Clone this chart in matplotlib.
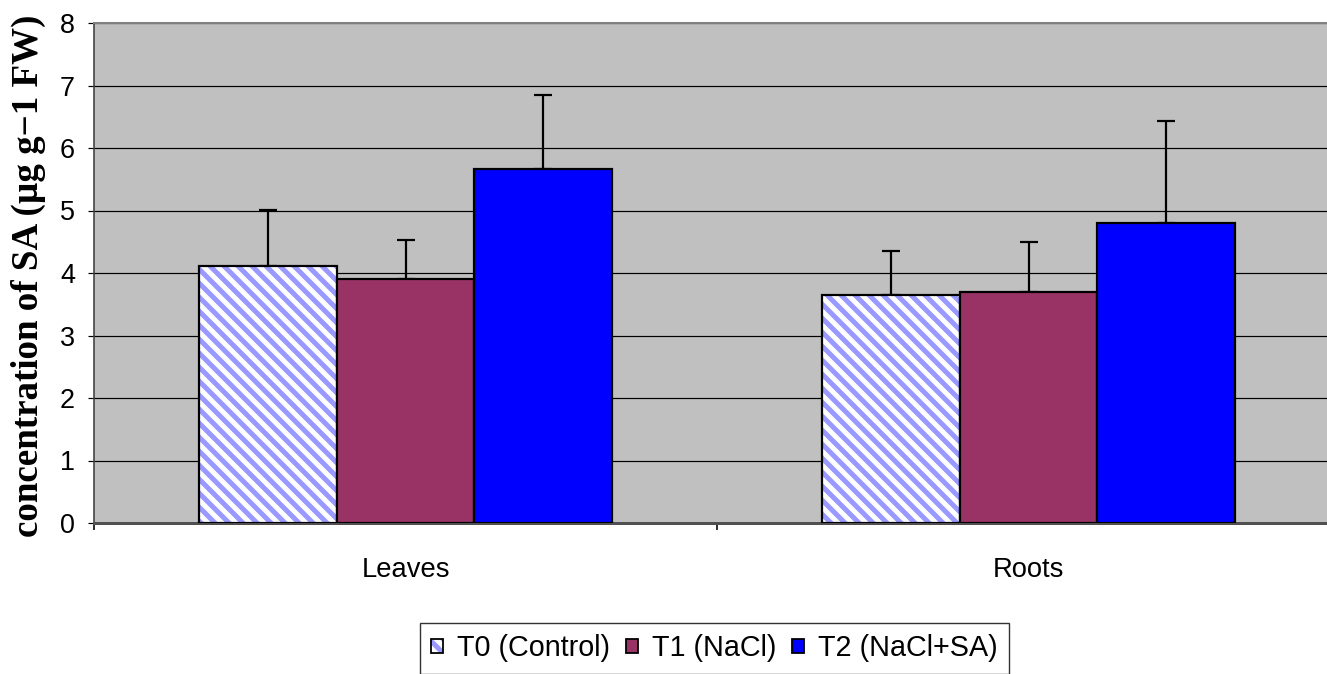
import matplotlib
matplotlib.use("Agg")
import matplotlib.pyplot as plt
from matplotlib.patches import Patch
from matplotlib.legend_handler import HandlerTuple
import numpy as np

categories = ["Leaves", "Roots"]
series_names = ["T0 (Control)", "T1 (NaCl)", "T2 (NaCl+SA)"]
t0_values = [4.11, 3.65]
t1_values = [3.91, 3.69]
t2_values = [5.66, 4.80]
t0_errors = [0.90, 0.70]
t1_errors = [0.62, 0.81]
t2_errors = [1.19, 1.63]
y_ticks = [0, 1, 2, 3, 4, 5, 6, 7, 8]
y_label = "concentration of SA (µg g−1 FW)"

DPI = 168


def pt(px):
    return px * 72.0 / DPI


plt.rcParams['font.family'] = ['Liberation Sans', 'DejaVu Sans']
plt.rcParams['hatch.linewidth'] = pt(5.0)

fig = plt.figure(figsize=(1327 / DPI, 674 / DPI), dpi=DPI)
ax = fig.add_axes([94 / 1327, 151 / 674, 1246 / 1327, 500 / 674])
ax.set_facecolor('#C0C0C0')

x = np.arange(len(categories)) + 0.5
w = 0.2215
values = [t0_values, t1_values, t2_values]
errors = [t0_errors, t1_errors, t2_errors]
offsets = [-w, 0, w]
fills = ['white', '#993366', '#0000FF']
HATCH = '\\\\\\\\'

ax.set_axisbelow(True)
ax.yaxis.grid(True, color='black', lw=pt(1.2))

handles = []
for i in range(3):
    pos = x + offsets[i]
    err = [np.zeros(len(errors[i])), errors[i]]
    ekw = dict(ecolor='black', elinewidth=pt(2.2), capsize=pt(9), capthick=pt(2.2), zorder=1)
    if i == 0:
        ax.bar(pos, values[i], w, color='white', edgecolor='#9999FF', hatch=HATCH, lw=0, zorder=2)
        ax.bar(pos, values[i], w, fill=False, edgecolor='black', lw=pt(2.2), zorder=3,
               yerr=err, error_kw=ekw)
        h = (Patch(facecolor='white', edgecolor='#9999FF', hatch=HATCH, lw=0),
             Patch(fill=False, edgecolor='black', lw=pt(1.8)))
    else:
        ax.bar(pos, values[i], w, color=fills[i], edgecolor='black', lw=pt(2.2), zorder=3,
               yerr=err, error_kw=ekw)
        h = Patch(facecolor=fills[i], edgecolor='black', lw=pt(1.8))
    handles.append(h)

ax.set_ylim(0, 8)
ax.set_xlim(0, 2)
ax.set_yticks(y_ticks)
ax.set_yticklabels([str(t) for t in y_ticks], fontsize=pt(27))
ax.tick_params(axis='y', length=pt(6), width=pt(1.2), pad=pt(13), color='black')
ax.set_xticks([0, 1, 2])
ax.set_xticklabels(['', '', ''])
ax.tick_params(axis='x', which='major', length=pt(7), width=pt(1.6), color='black')
ax.set_xticks(x, minor=True)
ax.set_xticklabels(categories, minor=True, fontsize=pt(27.4))
ax.tick_params(axis='x', which='minor', length=0, pad=pt(34))

ax.spines['right'].set_visible(False)
ax.spines['top'].set_color('#808080')
ax.spines['top'].set_linewidth(pt(2))
ax.spines['left'].set_color('#404040')
ax.spines['left'].set_linewidth(pt(1.6))
ax.spines['bottom'].set_color('#505050')
ax.spines['bottom'].set_linewidth(pt(3))

fig.text(28 / 1327, 137 / 674, y_label, rotation=90, ha='center', va='bottom',
         family=['Liberation Serif', 'DejaVu Serif'], fontweight='bold', fontsize=pt(37))

leg = fig.legend(handles, series_names, loc='center', bbox_to_anchor=(714.5 / 1327, 25.5 / 674),
                 ncol=3, fontsize=pt(28.8), frameon=True, fancybox=False, edgecolor='black',
                 handlelength=0.4, handleheight=0.4, handletextpad=0.5, columnspacing=0.55,
                 borderpad=0.4, borderaxespad=0,
                 handler_map={tuple: HandlerTuple(ndivide=1, pad=0)})
leg.get_frame().set_linewidth(pt(1.4))

fig.savefig('out.png', dpi=DPI)
